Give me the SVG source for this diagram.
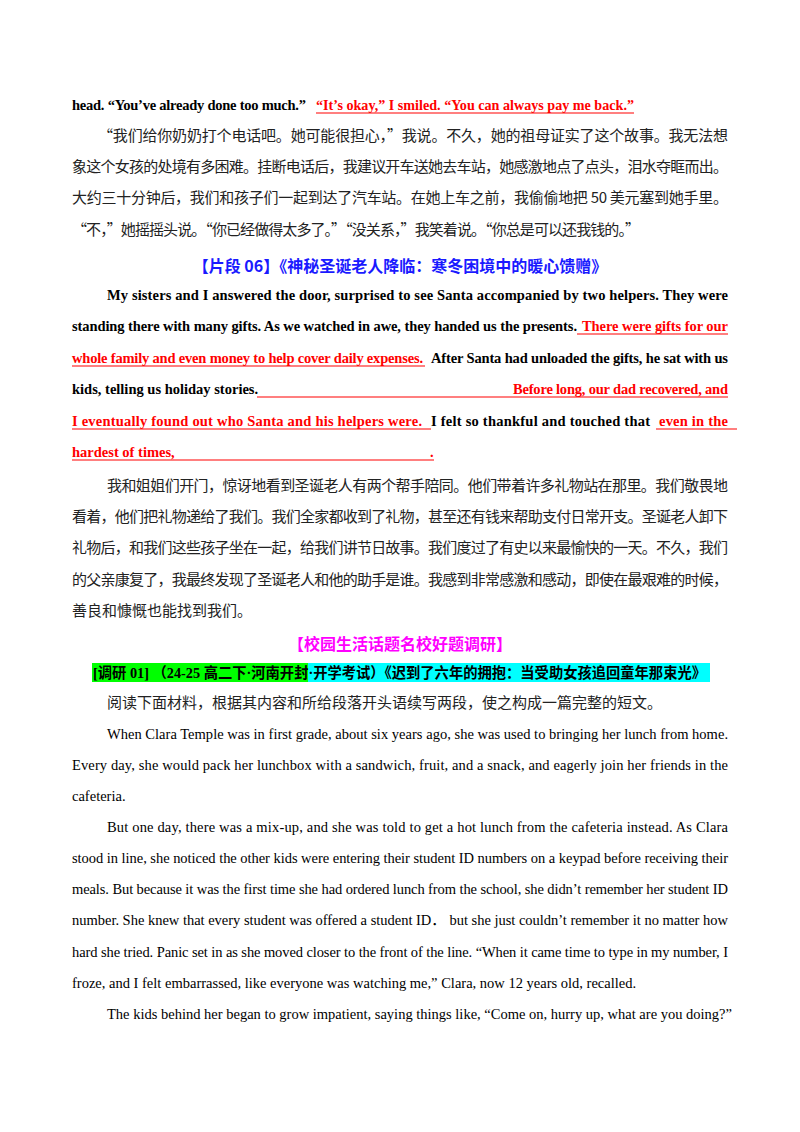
<svg xmlns="http://www.w3.org/2000/svg" width="800" height="1132" viewBox="0 0 800 1132">
<style>
.e{font-family:"Liberation Serif","Noto Sans CJK SC",serif;font-size:14.5px;fill:#000}
.b{font-weight:bold}
.c{font-family:"Noto Sans CJK SC",sans-serif;font-size:15px;fill:#222}
.r{fill:#f00}
.u{stroke:#f00;stroke-width:1.2}
.h{font-family:"Noto Sans CJK SC",sans-serif;font-weight:bold;font-size:16px;text-anchor:middle}
</style>
<rect width="800" height="1132" fill="#fff"/>
<g id="p1">
<text class="e b" x="72" y="110" textLength="234" lengthAdjust="spacing">head. “You’ve already done too much.”</text>
<text class="e b r" x="316" y="110" textLength="318" lengthAdjust="spacingAndGlyphs">“It’s okay,” I smiled. “You can always pay me back.”</text>
<line class="u" x1="316" y1="113" x2="634" y2="113"/>
<text class="c" x="98" y="141" textLength="630" lengthAdjust="spacing">“我们给你奶奶打个电话吧。她可能很担心，”我说。不久，她的祖母证实了这个故事。我无法想</text>
<text class="c" x="72" y="172" textLength="656" lengthAdjust="spacing">象这个女孩的处境有多困难。挂断电话后，我建议开车送她去车站，她感激地点了点头，泪水夺眶而出。</text>
<text class="c" x="72" y="203" textLength="656" lengthAdjust="spacing">大约三十分钟后，我们和孩子们一起到达了汽车站。在她上车之前，我偷偷地把 50 美元塞到她手里。</text>
<text class="c" x="72" y="235" textLength="568" lengthAdjust="spacing">“不，”她摇摇头说。“你已经做得太多了。”“没关系，”我笑着说。“你总是可以还我钱的。”</text>
</g>
<g id="h1"><text class="h" x="400" y="272" fill="#1a1aff">【片段 06】《神秘圣诞老人降临：寒冬困境中的暖心馈赠》</text></g>
<g id="p2">
<text class="e b" x="107" y="300" textLength="621" lengthAdjust="spacing">My sisters and I answered the door, surprised to see Santa accompanied by two helpers. They were</text>
<text class="e b" x="72" y="331" textLength="505" lengthAdjust="spacing">standing there with many gifts. As we watched in awe, they handed us the presents.</text>
<text class="e b r" x="582" y="331" textLength="146" lengthAdjust="spacing">There were gifts for our</text>
<line class="u" x1="577" y1="334" x2="728" y2="334"/>
<text class="e b r" x="72" y="363" textLength="351" lengthAdjust="spacing">whole family and even money to help cover daily expenses.</text>
<line class="u" x1="72" y1="366" x2="425" y2="366"/>
<text class="e b" x="431" y="363" textLength="297" lengthAdjust="spacing">After Santa had unloaded the gifts, he sat with us</text>
<text class="e b" x="72" y="394">kids, telling us holiday stories.</text>
<line class="u" x1="257" y1="397" x2="728" y2="397"/>
<text class="e b r" x="513" y="394" textLength="215" lengthAdjust="spacing">Before long, our dad recovered, and</text>
<text class="e b r" x="72" y="426" textLength="350" lengthAdjust="spacing">I eventually found out who Santa and his helpers were.</text>
<line class="u" x1="72" y1="429" x2="431" y2="429"/>
<text class="e b" x="431" y="426" textLength="219" lengthAdjust="spacing">I felt so thankful and touched that</text>
<text class="e b r" x="659" y="426" textLength="69" lengthAdjust="spacing">even in the</text>
<line class="u" x1="656" y1="429" x2="737" y2="429"/>
<text class="e b r" x="72" y="457">hardest of times,</text>
<text class="e b r" x="430" y="457">.</text>
<line class="u" x1="72" y1="460" x2="434" y2="460"/>
</g>
<g id="p3">
<text class="c" x="107" y="491" textLength="621" lengthAdjust="spacing">我和姐姐们开门，惊讶地看到圣诞老人有两个帮手陪同。他们带着许多礼物站在那里。我们敬畏地</text>
<text class="c" x="72" y="522" textLength="656" lengthAdjust="spacing">看着，他们把礼物递给了我们。我们全家都收到了礼物，甚至还有钱来帮助支付日常开支。圣诞老人卸下</text>
<text class="c" x="72" y="553" textLength="656" lengthAdjust="spacing">礼物后，和我们这些孩子坐在一起，给我们讲节日故事。我们度过了有史以来最愉快的一天。不久，我们</text>
<text class="c" x="72" y="585" textLength="656" lengthAdjust="spacing">的父亲康复了，我最终发现了圣诞老人和他的助手是谁。我感到非常感激和感动，即使在最艰难的时候，</text>
<text class="c" x="72" y="616">善良和慷慨也能找到我们。</text>
</g>
<g id="h2"><text class="h" x="400" y="650" fill="#ff00ff">【校园生活话题名校好题调研】</text></g>
<g id="tag">
<rect x="92" y="663" width="216" height="19" fill="#00ff00"/>
<rect x="308" y="663" width="402" height="19" fill="#00ffff"/>
<text class="e b" x="93" y="678" textLength="613" lengthAdjust="spacingAndGlyphs">[调研 01] （24-25 高二下·河南开封·开学考试）《迟到了六年的拥抱：当受助女孩追回童年那束光》</text>
</g>
<g id="p4">
<text class="c" x="107" y="708">阅读下面材料，根据其内容和所给段落开头语续写两段，使之构成一篇完整的短文。</text>
<text class="e" x="107" y="739" textLength="621" lengthAdjust="spacing">When Clara Temple was in first grade, about six years ago, she was used to bringing her lunch from home.</text>
<text class="e" x="72" y="770" textLength="656" lengthAdjust="spacing">Every day, she would pack her lunchbox with a sandwich, fruit, and a snack, and eagerly join her friends in the</text>
<text class="e" x="72" y="801">cafeteria.</text>
<text class="e" x="107" y="832" textLength="621" lengthAdjust="spacing">But one day, there was a mix-up, and she was told to get a hot lunch from the cafeteria instead. As Clara</text>
<text class="e" x="72" y="863" textLength="656" lengthAdjust="spacing">stood in line, she noticed the other kids were entering their student ID numbers on a keypad before receiving their</text>
<text class="e" x="72" y="894" textLength="656" lengthAdjust="spacing">meals. But because it was the first time she had ordered lunch from the school, she didn’t remember her student ID</text>
<text class="e" x="72" y="925" textLength="656" lengthAdjust="spacing">number. She knew that every student was offered a student ID． but she just couldn’t remember it no matter how</text>
<text class="e" x="72" y="957" textLength="656" lengthAdjust="spacing">hard she tried. Panic set in as she moved closer to the front of the line. “When it came time to type in my number, I</text>
<text class="e" x="72" y="988">froze, and I felt embarrassed, like everyone was watching me,” Clara, now 12 years old, recalled.</text>
<text class="e" x="107" y="1019">The kids behind her began to grow impatient, saying things like, “Come on, hurry up, what are you doing?”</text>
</g>
</svg>
